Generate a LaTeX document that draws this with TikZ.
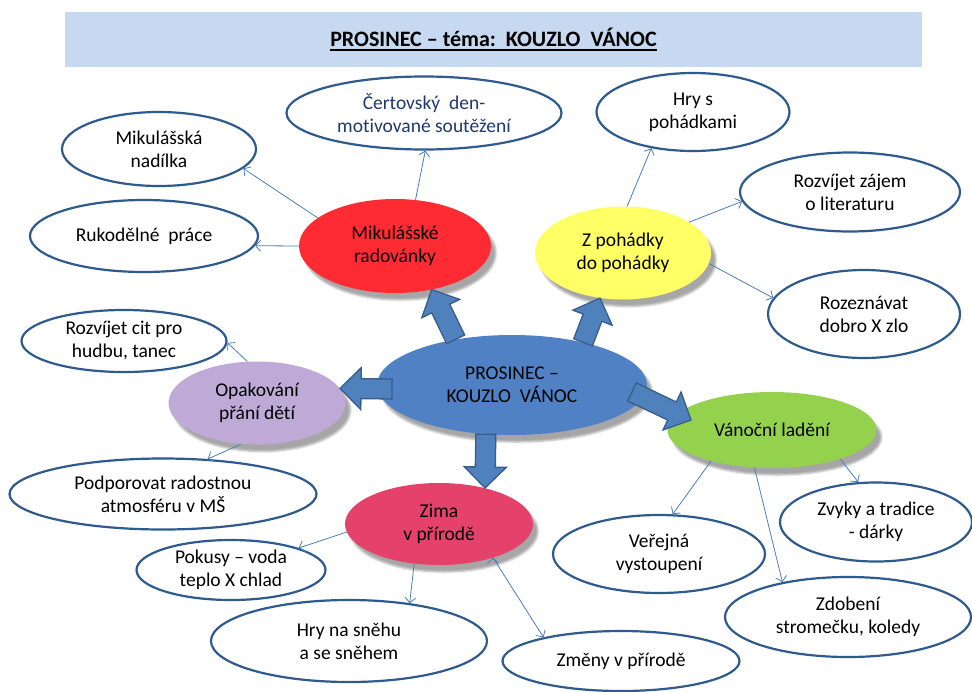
\documentclass[tikz,border=0pt]{standalone}
\usepackage{fontspec}
\setmainfont{Carlito}[Ligatures=NoCommon]
\usetikzlibrary{shapes.geometric,arrows.meta,calc,shadows.blur}
\definecolor{linkblue}{HTML}{4A7EBB}
\definecolor{rimblue}{HTML}{2E5A8E}
\definecolor{arrowfill}{HTML}{4F81BD}
\definecolor{arrowrim}{HTML}{385D8A}
\definecolor{titlebg}{HTML}{C6D9F1}
\definecolor{certtext}{HTML}{1F3A6E}
\definecolor{redfill}{HTML}{FE2B33}
\definecolor{yellowfill}{HTML}{FFFF66}
\definecolor{centfill}{HTML}{4F81C4}
\definecolor{purplefill}{HTML}{BFA9D6}
\definecolor{greenfill}{HTML}{94D24E}
\definecolor{pinkfill}{HTML}{E4416B}
% thick underline for the title
\newcommand{\titleline}[1]{\setbox0=\hbox{#1}\leavevmode\rlap{\vrule width\wd0 height -3pt depth 5pt}\box0}
% thick arrow from the centre to a topic
\newcommand{\bigarrow}[2]{%
  \coordinate (ah) at ($(#2)!21pt!(#1)$);
  \filldraw[fatarrow] ($(#1)!10pt!90:(#2)$) -- ($(ah)!10pt!-90:(#1)$)
    -- ($(ah)!21pt!-90:(#1)$) -- (#2) -- ($(ah)!21pt!90:(#1)$)
    -- ($(ah)!10pt!90:(#1)$) -- ($(#1)!10pt!-90:(#2)$) -- cycle;}
\begin{document}
\begin{tikzpicture}[x=1pt,y=-1pt,
  every node/.style={font=\fontsize{19.5}{23}\selectfont,align=center,inner sep=-5pt},
  leaf/.style={ellipse,draw=rimblue,line width=2.2pt,fill=white},
  topic/.style={ellipse,blur shadow={shadow xshift=5pt,shadow yshift=-7pt,shadow opacity=35}},
  fatarrow/.style={fill=arrowfill,draw=arrowrim,line width=1.3pt,line join=miter},
  link/.style={draw=linkblue,line width=0.8pt,-{Straight Barb[length=5pt,width=11pt]}}]
\useasboundingbox (0,0) rectangle (972,691);
% title
\node[fill=titlebg,minimum width=857,minimum height=55,inner sep=0pt] (title) at (493.5,39.5)
  {\fontsize{22}{24}\selectfont\bfseries\titleline{PROSINEC -- téma:\ \ KOUZLO\ \ VÁNOC}};
% outer topics
\node[leaf,minimum width=194,minimum height=74] (nadilka) at (159,149) {Mikulášská\\nadílka};
\node[leaf,minimum width=275,minimum height=73] (cert) at (424,113) {\color{certtext}Čertovský\ \ den-\\\color{certtext}motivované soutěžení};
\node[leaf,minimum width=228,minimum height=72] (ruk) at (144,236) {Rukodělné\ \ práce};
\node[leaf,minimum width=193,minimum height=78] (hry) at (693,112) {Hry s\\pohádkami};
\node[leaf,minimum width=220,minimum height=79] (zajem) at (850,192) {Rozvíjet zájem\\o literaturu};
\node[leaf,minimum width=192,minimum height=88] (rozez) at (864,314) {Rozeznávat\\dobro X zlo};
\node[leaf,minimum width=205,minimum height=62] (cit) at (124,341) {Rozvíjet cit pro\\hudbu, tanec};
\node[leaf,minimum width=307,minimum height=71] (podp) at (163,494) {Podporovat radostnou\\atmosféru v MŠ};
\node[leaf,minimum width=192,minimum height=79] (zvyky) at (876,522) {Zvyky a tradice\\- dárky};
\node[leaf,minimum width=212,minimum height=78] (verej) at (659,554) {Veřejná\\vystoupení};
\node[leaf,minimum width=246,minimum height=80] (zdob) at (848,617) {Zdobení\\stromečku, koledy};
\node[leaf,minimum width=189,minimum height=60] (pokus) at (231,570) {Pokusy -- voda\\teplo X chlad};
\node[leaf,minimum width=276,minimum height=82] (snih) at (349,641) {Hry na sněhu\\a se sněhem};
\node[leaf,minimum width=237,minimum height=60] (zmeny) at (621,661) {Změny v přírodě};
% coloured topics
\node[topic,fill=redfill,minimum width=192,minimum height=94] (red) at (395,246) {Mikulášské\\radovánky};
\node[topic,fill=yellowfill,minimum width=176,minimum height=93] (yellow) at (623,253) {Z pohádky\\do pohádky};
\node[topic,fill=purplefill,minimum width=177,minimum height=83] (purple) at (257,403) {Opakování\\přání dětí};
\node[topic,fill=greenfill,minimum width=209,minimum height=76] (green) at (772,430) {Vánoční ladění};
\node[topic,fill=pinkfill,minimum width=188,minimum height=82] (pink) at (439,524) {Zima\\v přírodě};
\node[topic,fill=centfill,minimum width=270,minimum height=100] (cent) at (512,385) {PROSINEC --\\KOUZLO\ \ VÁNOC};
% thick arrows
\coordinate (ptail) at ($(cent.center)+(-120,4)$);
\coordinate (gtail) at ($(cent.center)+(120,7)$);
\coordinate (gtip) at ($(green.center)+(-81,-10)$);
\bigarrow{cent.141}{red.-50}
\bigarrow{cent.31}{yellow.243}
\bigarrow{ptail}{purple.10}
\bigarrow{cent.242}{pink.38}
\bigarrow{gtail}{gtip}
% thin links
\path[link]
  (red.160) edge (nadilka.-13)
  (red.west) edge (ruk.-5)
  (red.66) edge (cert.-88)
  (yellow.85) edge (hry.-139)
  (yellow.25) edge (zajem.185)
  (yellow.-7) edge (rozez.170)
  (purple.103) edge (cit.-1)
  (purple.-111) edge (podp.38)
  (green.207) edge (verej.71)
  (green.245) edge (zdob.152)
  (green.-23) edge (zvyky.114)
  (pink.185) edge (pokus.18)
  (pink.238) edge (snih.32)
  (pink.-32) edge (zmeny.163);
\end{tikzpicture}
\end{document}
